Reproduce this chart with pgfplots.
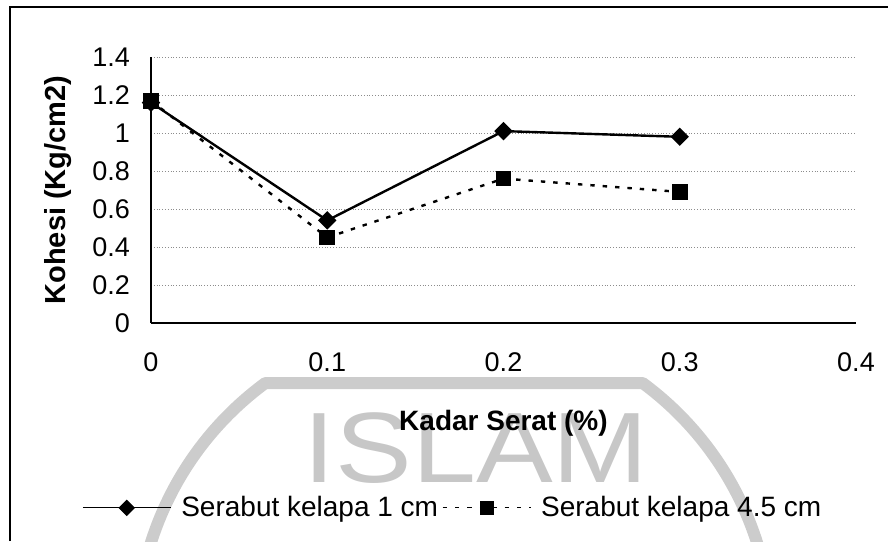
\documentclass[border=0pt]{standalone}
\usepackage{fontspec}
\setmainfont{Liberation Sans}
\usepackage{pgfplots}
\pgfplotsset{compat=1.18}

\begin{document}
\begin{tikzpicture}
\useasboundingbox (-75.5pt,-109pt) rectangle (368.5pt,161.5pt);
% faint watermark behind the chart
\begin{scope}
  \clip (-75.5pt,-109pt) rectangle (368.5pt,161.5pt);
  \draw[black!20, line width=6pt, line join=round]
    (151.5pt,-158pt) ++(126.4:159pt) arc[start angle=126.4, end angle=413.6, radius=159pt] -- cycle;
  \node[text=black!22, font=\fontsize{50}{50}\selectfont, xscale=1.15] at (162.5pt,-62.5pt) {ISLAM};
\end{scope}
% outer frame
\draw[line width=0.9pt] (-70.5pt,-109pt) -- (-70.5pt,158pt) -- (368.5pt,158pt);

\begin{axis}[
  scale only axis,
  width=352.5pt, height=133pt,
  xmin=0, xmax=0.4, ymin=0, ymax=1.4,
  xtick={0,0.1,0.2,0.3,0.4},
  ytick={0,0.2,0.4,0.6,0.8,1,1.2,1.4},
  axis x line*=bottom, axis y line*=left,
  axis line style={line width=0.6pt},
  major tick length=0pt,
  ymajorgrids,
  grid style={densely dotted, black!45, line width=0.4pt},
  /pgf/number format/assume math mode=true,
  ticklabel style={font=\fontsize{13.5}{16}\selectfont},
  xticklabel style={yshift=-11.5pt},
  yticklabel style={xshift=-7pt},
  xlabel={Kadar Serat (\%)},
  ylabel={Kohesi (Kg/cm2)},
  xlabel style={at={(axis description cs:0.5,-0.376)}, anchor=center,
    font=\bfseries\fontsize{14}{16}\selectfont},
  ylabel style={at={(axis description cs:-0.132,0.5)}, anchor=center,
    font=\bfseries\fontsize{14.5}{16}\selectfont},
  legend columns=2,
  legend style={at={(axis description cs:-0.098,-0.695)}, anchor=west,
    draw=none, fill=none, inner sep=0pt,
    font=\fontsize{14}{16}\selectfont,
    /tikz/every odd column/.append style={column sep=3pt}},
  legend image code/.code={\draw[mark repeat=2, mark phase=2, #1]
    plot coordinates {(0pt,0pt) (22pt,0pt) (44pt,0pt)};},
  legend image post style={line width=0.5pt},
]
\addplot[black, line width=1.2pt, mark=square*, mark size=2.65pt,
  mark options={rotate=45, solid}]
  coordinates {(0,1.16) (0.1,0.54) (0.2,1.01) (0.3,0.98)};
\addlegendentry{Serabut kelapa 1 cm}
\addplot[black, line width=1.2pt, dash pattern=on 2.2pt off 4pt,
  mark=square*, mark size=3.3pt, mark options={solid}]
  coordinates {(0,1.17) (0.1,0.45) (0.2,0.76) (0.3,0.69)};
\addlegendentry{Serabut kelapa 4.5 cm}
\end{axis}
\end{tikzpicture}
\end{document}
